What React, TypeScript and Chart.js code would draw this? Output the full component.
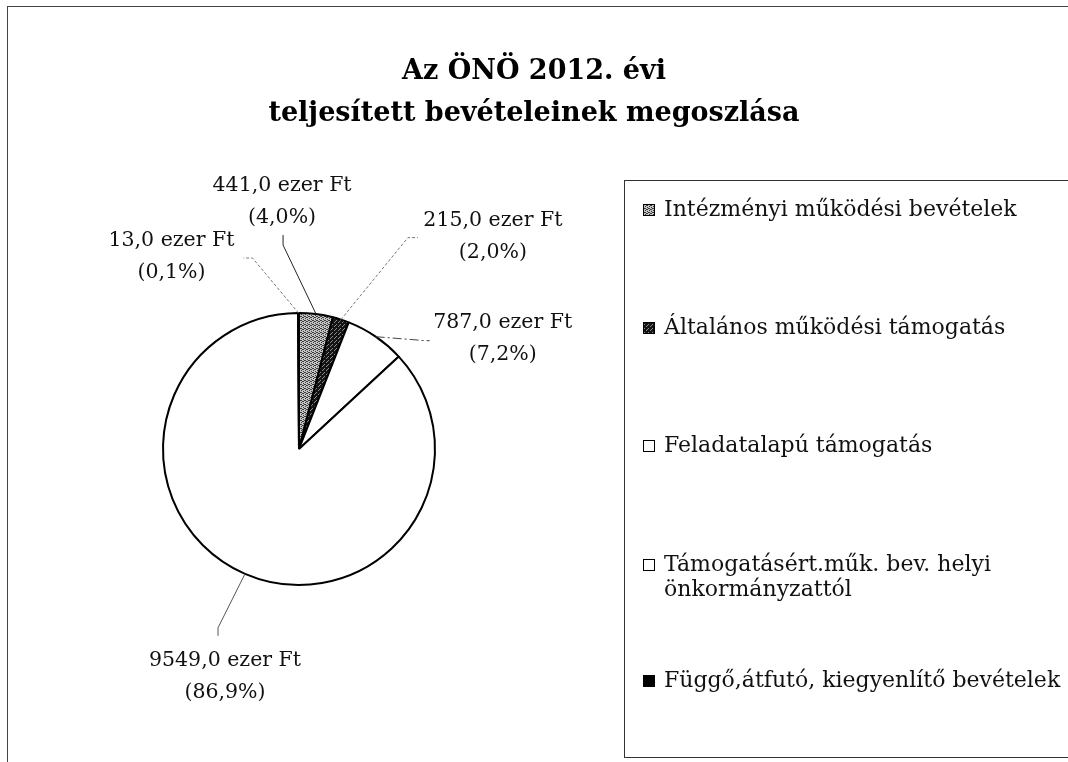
import React, { useEffect, useRef } from 'react';
import { Chart, registerables } from 'chart.js';

Chart.register(...registerables);

const TITLE_LINES = ['Az ÖNÖ 2012. évi', 'teljesített bevételeinek megoszlása'];
const CATEGORIES = [
  'Intézményi működési bevételek',
  'Általános működési támogatás',
  'Feladatalapú támogatás',
  'Támogatásért.műk. bev. helyi önkormányzattól',
  'Függő,átfutó, kiegyenlítő bevételek',
];
const LEGEND_LINES = [
  ['Intézményi működési bevételek'],
  ['Általános működési támogatás'],
  ['Feladatalapú támogatás'],
  ['Támogatásért.műk. bev. helyi', 'önkormányzattól'],
  ['Függő,átfutó, kiegyenlítő bevételek'],
];
const VALUES = [441, 215, 787, 9549, 13];
const VALUE_LABELS = ['441,0 ezer Ft', '215,0 ezer Ft', '787,0 ezer Ft', '9549,0 ezer Ft', '13,0 ezer Ft'];
const PERCENT_LABELS = ['(4,0%)', '(2,0%)', '(7,2%)', '(86,9%)', '(0,1%)'];

// label layout (offsets relative to the arc's outer mid point)
const LABEL_LAYOUT = [
  { elbow: [-33, -69], end: [0, -10], text: [-34, -128], dash: [], color: '#222' },
  { elbow: [67, -82], end: [10, 0], text: [152, -99], dash: [3, 2], color: '#777' },
  { elbow: [50, 4], end: [4, 0], text: [127, -14], dash: [9, 3, 2, 3], color: '#444' },
  { elbow: [-27, 54], end: [0, 8], text: [-20, 87], dash: [], color: '#555' },
  { elbow: [-46, -55], end: [-9, 0], text: [-127, -72], dash: [3, 2], color: '#777' },
];

function makePattern(base: string, dot: string, dots: number[][]) {
  const c = document.createElement('canvas');
  c.width = 4;
  c.height = 4;
  const g = c.getContext('2d')!;
  g.fillStyle = base;
  g.fillRect(0, 0, 4, 4);
  g.fillStyle = dot;
  dots.forEach(([x, y]) => g.fillRect(x, y, 1, 1));
  return g.createPattern(c, 'repeat')!;
}

export default function App() {
  const ref = useRef<HTMLCanvasElement | null>(null);

  useEffect(() => {
    const canvas = ref.current!;
    const grayPat = makePattern('#c4c4c4', '#3a3a3a', [[0, 0], [2, 1], [1, 2], [3, 3], [3, 1], [1, 0]]);
    const darkPat = makePattern('#141414', '#8a8a8a', [[0, 0], [2, 2], [3, 1]]);
    const fills = [grayPat, darkPat, '#ffffff', '#ffffff', '#000000'];

    const decor = {
      id: 'decor',
      afterDraw(chart: any) {
        const ctx = chart.ctx as CanvasRenderingContext2D;
        ctx.save();
        // outer frame
        ctx.strokeStyle = '#444';
        ctx.lineWidth = 1;
        ctx.strokeRect(7.5, 6.5, 1200, 900);

        // title
        ctx.fillStyle = '#000';
        ctx.textAlign = 'center';
        ctx.textBaseline = 'middle';
        ctx.font = 'bold 27px "DejaVu Serif"';
        ctx.fillText(TITLE_LINES[0], 534, 72);
        ctx.fillText(TITLE_LINES[1], 534, 114);

        // data labels with leaders
        const meta = chart.getDatasetMeta(0);
        ctx.font = '20.5px "DejaVu Serif"';
        meta.data.forEach((arc: any, i: number) => {
          const mid = (arc.startAngle + arc.endAngle) / 2;
          const px = arc.x + Math.cos(mid) * arc.outerRadius;
          const py = arc.y + Math.sin(mid) * arc.outerRadius;
          const L = LABEL_LAYOUT[i];
          const ex = px + L.elbow[0];
          const ey = py + L.elbow[1];
          ctx.strokeStyle = L.color;
          ctx.lineWidth = 1;
          ctx.setLineDash(L.dash);
          ctx.beginPath();
          ctx.moveTo(px, py);
          ctx.lineTo(ex, ey);
          ctx.lineTo(ex + L.end[0], ey + L.end[1]);
          ctx.stroke();
          ctx.setLineDash([]);
          const tx = px + L.text[0];
          const ty = py + L.text[1];
          ctx.fillStyle = '#111';
          ctx.fillText(VALUE_LABELS[i], tx, ty);
          ctx.fillText(PERCENT_LABELS[i], tx, ty + 32);
        });

        // legend box
        ctx.strokeStyle = '#333';
        ctx.lineWidth = 1;
        ctx.strokeRect(624.5, 180.5, 600, 577);
        ctx.textAlign = 'left';
        ctx.font = '22px "DejaVu Serif"';
        const itemY = [210, 328, 446, 565, 681];
        LEGEND_LINES.forEach((lines, i) => {
          const y = itemY[i];
          ctx.fillStyle = fills[i] as any;
          ctx.fillRect(643, y - 6, 12, 12);
          ctx.strokeStyle = '#000';
          ctx.lineWidth = 1;
          ctx.strokeRect(643.5, y - 5.5, 11, 11);
          ctx.fillStyle = '#111';
          lines.forEach((t, j) => ctx.fillText(t, 664, y + j * 25));
        });
        ctx.restore();
      },
    };

    const chart = new Chart(canvas, {
      type: 'pie',
      data: {
        labels: CATEGORIES,
        datasets: [
          {
            data: VALUES,
            backgroundColor: fills as any,
            borderColor: '#000',
            borderWidth: 2,
          },
        ],
      },
      options: {
        responsive: false,
        animation: false,
        layout: { padding: { left: 162, top: 312, right: 632, bottom: 176 } },
        plugins: {
          legend: { display: false },
          title: { display: false },
          tooltip: { enabled: false },
        },
      },
      plugins: [decor],
    });
    return () => chart.destroy();
  }, []);

  return (
    <div style={{ position: 'absolute', left: 0, top: 0, width: 1068, height: 762, background: '#fff' }}>
      <canvas ref={ref} width={1068} height={762} style={{ display: 'block' }} />
    </div>
  );
}
